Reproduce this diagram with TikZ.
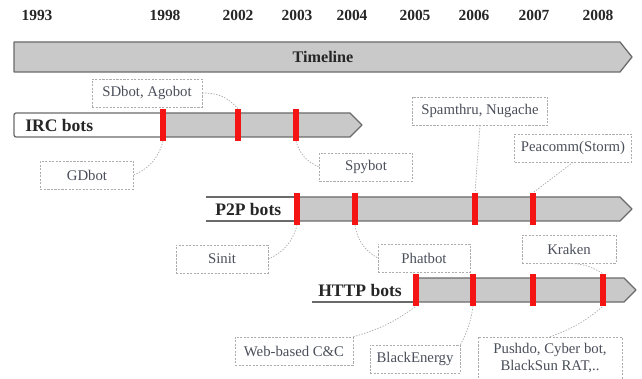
\documentclass[tikz,border=0pt]{standalone}
\usepackage{fontspec}
\setmainfont{Liberation Serif}
\usetikzlibrary{positioning}
\definecolor{BandGray}{HTML}{C9C9C9}
\definecolor{EdgeGray}{HTML}{6A6A6A}
\definecolor{LabelGray}{HTML}{4A4F5A}
\definecolor{TickRed}{HTML}{F41414}

\begin{document}
\begin{tikzpicture}[
        x=0.025cm, y=-0.025cm,
        year/.style={font=\bfseries\fontsize{11}{12}\selectfont, text=black!85},
        band/.style={draw=EdgeGray, fill=BandGray, line width=0.9pt, line join=round},
        bandlabel/.style={font=\bfseries\fontsize{12.5}{14}\selectfont, anchor=west, inner sep=0pt, text=black!85},
        botbox/.style={draw=gray!65, dash pattern=on 1.5pt off 1pt, fill=white, minimum height=0.7cm, inner sep=2pt, align=center, text=LabelGray, font=\fontsize{10.5}{12}\selectfont},
        tick/.style={fill=TickRed, minimum width=0.13cm, minimum height=0.8cm, inner sep=0pt},
        link/.style={draw=gray!65, dash pattern=on 1pt off 1pt, line width=0.5pt}
      ]
        \useasboundingbox (0,0) rectangle (642,379);

        % years
        \node[year] (y93) at (37,15) {1993};
        \node[year] (y98) at (165,15) {1998};
        \node[year] (y02) at (238,15) {2002};
        \node[year] (y03) at (297,15) {2003};
        \node[year] (y04) at (352,15) {2004};
        \node[year] (y05) at (415,15) {2005};
        \node[year] (y06) at (474,15) {2006};
        \node[year] (y07) at (534,15) {2007};
        \node[year] (y08) at (598,15) {2008};

        % timeline band
        \draw[band] (14,42) -- (620,42) -- (632,57) -- (620,72) -- (14,72) -- cycle;
        \node[font=\bfseries\fontsize{11.5}{13}\selectfont, text=black!85] (timeline) at (323,57) {Timeline};

        % IRC band
        \draw[draw=EdgeGray, fill=white, line width=0.9pt, rounded corners=1.5pt] (163,113) -- (14,113) -- (14,137) -- (163,137);
        \draw[band] (163,113) -- (350,113) -- (362,125) -- (350,137) -- (163,137) -- cycle;
        \node[bandlabel] (irc) at (25,125) {IRC bots};

        % P2P band
        \draw[draw=EdgeGray, line width=0.9pt] (206,197) -- (297,197) (206,221) -- (297,221);
        \draw[band] (297,197) -- (620,197) -- (632,209) -- (620,221) -- (297,221) -- cycle;
        \node[bandlabel] (p2p) at (215,209) {P2P bots};

        % HTTP band
        \draw[draw=EdgeGray, line width=0.9pt] (312,302) -- (416,302);
        \draw[band] (416,278) -- (624,278) -- (636,290) -- (624,302) -- (416,302) -- cycle;
        \node[bandlabel] (http) at (318,290) {HTTP bots};

        % red ticks
        \node[tick] (irc98) at (163,125) {};
        \node[tick] (irc02) at (238,125) {};
        \node[tick] (irc03) at (296,125) {};
        \node[tick] (p2p03) at (297,209) {};
        \node[tick] (p2p04) at (355,209) {};
        \node[tick] (p2p06) at (475,209) {};
        \node[tick] (p2p07) at (533,209) {};
        \node[tick] (http05) at (416,290) {};
        \node[tick] (http06) at (473,290) {};
        \node[tick] (http07) at (533,290) {};
        \node[tick] (http08) at (603,290) {};

        % bot boxes
        \node[botbox, minimum width=2.75cm] (sdbot) at (147,93) {SDbot, Agobot};
        \node[botbox, minimum width=2.33cm] (gdbot) at (87,175) {GDbot};
        \node[botbox, minimum width=2.33cm] (spybot) at (366,167) {Spybot};
        \node[botbox, minimum width=3.38cm] (spam) at (480,111) {Spamthru, Nugache};
        \node[botbox, minimum width=2.92cm] (peacomm) at (573,148) {Peacomm(Storm)};
        \node[botbox, minimum width=2.3cm] (sinit) at (222,259) {Sinit};
        \node[botbox, minimum width=2.3cm] (phatbot) at (424,258) {Phatbot};
        \node[botbox, minimum width=2.35cm] (kraken) at (569,249) {Kraken};
        \node[botbox, minimum width=2.95cm] (webcc) at (294,351) {Web-based C\&C};
        \node[botbox, minimum width=2.25cm] (blackenergy) at (415,359) {BlackEnergy};
        \node[botbox, minimum width=3.6cm, minimum height=1.05cm] (pushdo) at (550,358) {Pushdo, Cyber bot,\\BlackSun RAT,..};

        % links
        \draw[link] (sdbot.east) to[bend left=25] (irc02.north);
        \draw[link] (gdbot.east) to[bend right=25] (irc98.south);
        \draw[link] (irc03.south) to[bend right=25] (spybot.west);
        \draw[link] (spam.south) -- (p2p06.north);
        \draw[link] (peacomm.south) -- (p2p07.north);
        \draw[link] (sinit.east) to[bend right=25] (p2p03.south);
        \draw[link] (p2p04.south) to[bend right=25] (phatbot.west);
        \draw[link] (kraken.south) to[bend left=15] (http08.north);
        \draw[link] (webcc.north east) to[bend right=10] (http05.south);
        \draw[link] (blackenergy.north east) to[bend right=10] (http06.south);
        \draw[link] (pushdo.north) to[bend right=10] (http08.south);
      \end{tikzpicture}
\end{document}
